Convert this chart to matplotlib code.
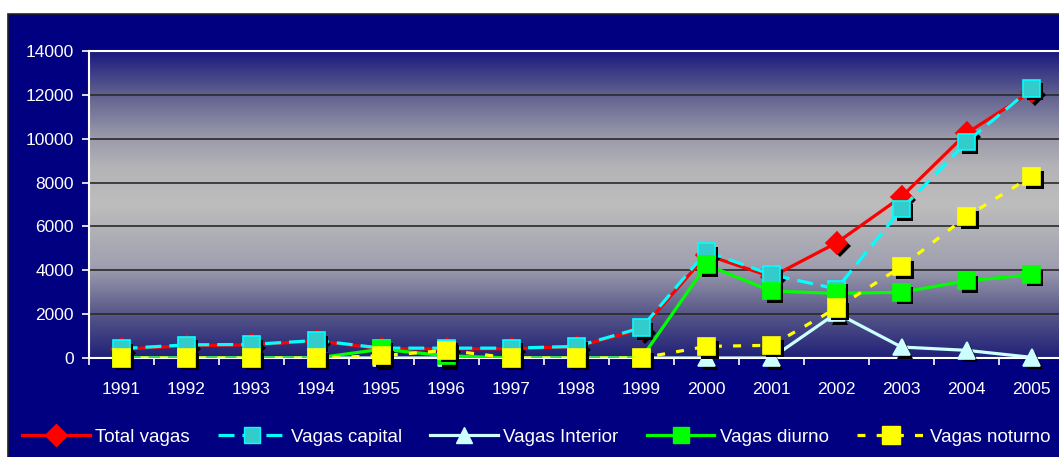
import matplotlib
matplotlib.use("Agg")
import matplotlib.pyplot as plt
import matplotlib.patheffects as pe
from matplotlib.colors import LinearSegmentedColormap
from matplotlib.patches import Rectangle
import numpy as np

plt.rcParams["font.family"] = ["Liberation Sans", "DejaVu Sans"]

years = ["1991", "1992", "1993", "1994", "1995", "1996", "1997", "1998",
         "1999", "2000", "2001", "2002", "2003", "2004", "2005"]
total_vagas = [400, 560, 600, 780, 420, 420, 420, 520, 1300, 4700, 3700, 5250, 7350, 10250, 12150]
vagas_capital = [430, 600, 620, 800, 450, 450, 450, 530, 1380, 4850, 3800, 3150, 6800, 9850, 12300]
vagas_interior = [0, 0, 0, 0, 0, 0, 0, 0, 0, 0, 0, 2050, 500, 350, 30]
vagas_diurno = [0, 0, 0, 0, 400, 100, 0, 0, 0, 4250, 3050, 2950, 3000, 3520, 3800]
vagas_noturno = [0, 0, 0, 0, 100, 350, 0, 0, 0, 530, 580, 2280, 4170, 6450, 8280]

W, H = 1059, 457
fig = plt.figure(figsize=(W / 100, H / 100), dpi=100, facecolor="white")

# navy chart area
fig.add_artist(Rectangle((8 / W, -0.05), 1.1, (H - 14) / H + 0.05,
                         transform=fig.transFigure, facecolor="#000080",
                         edgecolor="#222222", linewidth=1.2, zorder=-10))

ax = fig.add_axes([89 / W, 99 / H, 975 / W, 307 / H])
ax.set_zorder(1)

# gradient background
grad = LinearSegmentedColormap.from_list(
    "bg", [(0.0, "#202078"), (0.15, "#5a5a8a"), (0.3, "#a0a0b0"),
           (0.5, "#bdbdbd"), (0.62, "#b4b4b8"), (0.72, "#9a9aaa"),
           (0.86, "#606090"), (1.0, "#1a1a80")])
ax.imshow(np.linspace(0, 1, 256).reshape(-1, 1), cmap=grad, aspect="auto",
          extent=(0.5, 15.5, 0, 14000), origin="lower", zorder=0)
ax.set_xlim(0.5, 15.5)
ax.set_ylim(0, 14000)

for y in range(2000, 14000, 2000):
    ax.axhline(y, color="#2a2a2a", linewidth=1.2, zorder=1)

x = np.arange(1, 16)
shadow = [pe.SimplePatchShadow(offset=(2.5, -2.5), shadow_rgbFace="black", alpha=1.0), pe.Normal()]

series = [
    (total_vagas, "Total vagas", "#ff0000", "-", "D", "#ff0000", "#ff0000", 11),
    (vagas_capital, "Vagas capital", "#00ffff", (0, (5, 2.5)), "s", "#33cccc", "#00ffff", 12),
    (vagas_interior, "Vagas Interior", "#ccffff", "-", "^", "#ccffff", "#ccffff", 12),
    (vagas_diurno, "Vagas diurno", "#00ff00", "-", "s", "#00ff00", "#00ff00", 12),
    (vagas_noturno, "Vagas noturno", "#ffff00", (0, (2.5, 3.5)), "s", "#ffff00", "#ffff00", 12.5),
]

handles = []
for i, (vals, label, color, ls, mk, face, edge, ms) in enumerate(series):
    ax.plot(x, vals, color=color, linestyle=ls, linewidth=2.3, zorder=3 + i)
    ax.plot(x, vals, linestyle="none", marker=mk, markersize=ms,
            markerfacecolor=face, markeredgecolor=edge, markeredgewidth=1.2,
            path_effects=shadow, zorder=3 + i, clip_on=False)
    h, = ax.plot([], [], color=color, linestyle=ls, linewidth=2.3, marker=mk,
                 markersize=ms, markerfacecolor=face, markeredgecolor=edge)
    handles.append(h)

ax.spines["right"].set_visible(False)
for s in ["left", "bottom", "top"]:
    ax.spines[s].set_color("white")
    ax.spines[s].set_linewidth(1.5)

ax.set_yticks(range(0, 14001, 2000))
ax.set_yticklabels([str(v) for v in range(0, 14001, 2000)])
ax.tick_params(axis="y", colors="white", labelsize=12.5, length=5, width=1.2, pad=6)

ax.set_xticks(np.arange(0.5, 15.6, 1.0))
ax.set_xticklabels([])
ax.tick_params(axis="x", which="major", colors="white", length=5, width=1.2, direction="out")
ax.set_xticks(x, minor=True)
ax.set_xticklabels(years, minor=True)
ax.tick_params(axis="x", which="minor", colors="white", labelsize=12.5, length=0, pad=17)

fig.legend(handles, [s[1] for s in series], loc="center left",
           bbox_to_anchor=(22 / W, 1 - 437 / H), ncol=5, frameon=False,
           fontsize=13.5, labelcolor="white", handlelength=3.6,
           handletextpad=0.3, columnspacing=1.5, borderpad=0, borderaxespad=0)

fig.savefig("out.png", dpi=100, facecolor="white")
